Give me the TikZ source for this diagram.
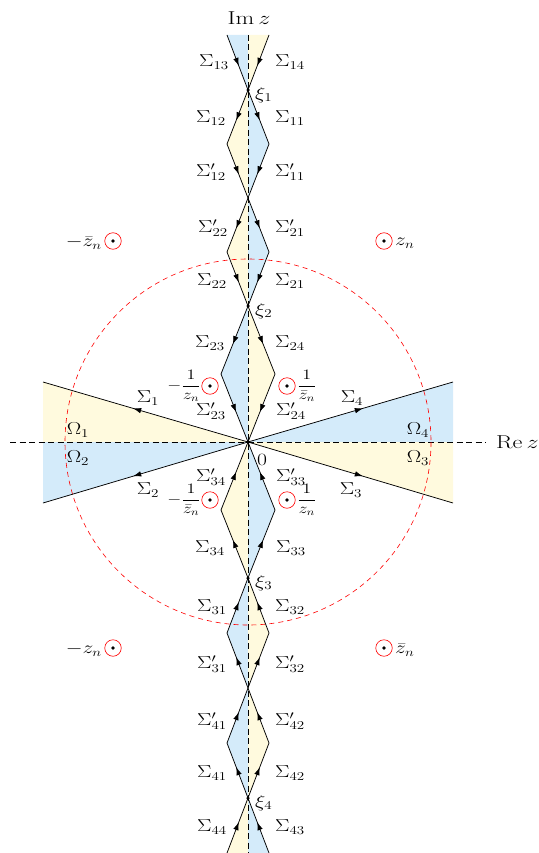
\documentclass[tikz,border=0pt]{standalone}
\usetikzlibrary{arrows.meta,decorations.markings}
\definecolor{yel}{RGB}{255,250,222}
\definecolor{blu}{RGB}{212,235,250}
\newcommand\mylb[1]{\scalebox{1.25}[1]{$#1$}}
\newcommand\myfr[1]{\scalebox{1.25}[1]{$\displaystyle #1$}}
\newcommand\myax[1]{\scalebox{1.4}[1.08]{$#1$}}
\begin{document}
\begin{tikzpicture}[x=1pt,y=-1pt,
  lbl/.style={inner sep=0pt,font=\fontsize{17.28}{20}\selectfont},
  frlbl/.style={inner sep=0pt,font=\fontsize{14.4}{17}\selectfont},
  seg/.style={line width=0.75pt,postaction={decorate},decoration={markings,
     mark=at position 0.56 with {\arrow{Latex[length=8pt,width=5.5pt]}}}},
  axis/.style={line width=0.7pt,dash pattern=on 6pt off 3.5pt},
  ptmark/.style={circle,draw=red,line width=0.6pt,minimum size=16.5pt,inner sep=0pt,
     path picture={\fill[black] (path picture bounding box.center) circle (1.9pt);}},
  sdot/.style={circle,fill=black,inner sep=0pt,minimum size=3.5pt}]
\useasboundingbox (0,0) rectangle (538,853);
% key points
\coordinate (O) at (248,442);
\coordinate (xi1) at (248,90);
\coordinate (xi2) at (248,306);
\coordinate (xi3) at (248,578);
\coordinate (xi4) at (248,798);
\coordinate (c1) at (248,198);
\coordinate (c4) at (248,688);
\coordinate (a1L) at (227,144); \coordinate (a1R) at (269,144);
\coordinate (b1L) at (227,252); \coordinate (b1R) at (269,252);
\coordinate (d2L) at (221,374); \coordinate (d2R) at (275,374);
\coordinate (d3L) at (221,510); \coordinate (d3R) at (275,510);
\coordinate (a3L) at (227,633); \coordinate (a3R) at (269,633);
\coordinate (b4L) at (227,743); \coordinate (b4R) at (269,743);
\coordinate (tL) at (227,35); \coordinate (tM) at (248,35); \coordinate (tR) at (269,35);
\coordinate (bL) at (227,853); \coordinate (bM) at (248,853); \coordinate (bR) at (269,853);
\coordinate (lU) at (43,382); \coordinate (lM) at (43,442); \coordinate (lD) at (43,503);
\coordinate (rU) at (453,382); \coordinate (rM) at (453,442); \coordinate (rD) at (453,503);
\coordinate (hL) at (10,442); \coordinate (hR) at (486,442);
% fills
\fill[blu] (tL) -- (tM) -- (xi1) -- cycle;
\fill[yel] (tM) -- (tR) -- (xi1) -- cycle;
\fill[yel] (xi1) -- (a1L) -- (c1) -- cycle;
\fill[blu] (xi1) -- (a1R) -- (c1) -- cycle;
\fill[yel] (c1) -- (b1L) -- (xi2) -- cycle;
\fill[blu] (c1) -- (b1R) -- (xi2) -- cycle;
\fill[blu] (xi2) -- (d2L) -- (O) -- cycle;
\fill[yel] (xi2) -- (d2R) -- (O) -- cycle;
\fill[yel] (O) -- (d3L) -- (xi3) -- cycle;
\fill[blu] (O) -- (d3R) -- (xi3) -- cycle;
\fill[blu] (xi3) -- (a3L) -- (c4) -- cycle;
\fill[yel] (xi3) -- (a3R) -- (c4) -- cycle;
\fill[blu] (c4) -- (b4L) -- (xi4) -- cycle;
\fill[yel] (c4) -- (b4R) -- (xi4) -- cycle;
\fill[yel] (xi4) -- (bL) -- (bM) -- cycle;
\fill[blu] (xi4) -- (bM) -- (bR) -- cycle;
\fill[yel] (O) -- (lU) -- (lM) -- cycle;
\fill[blu] (O) -- (lM) -- (lD) -- cycle;
\fill[blu] (O) -- (rU) -- (rM) -- cycle;
\fill[yel] (O) -- (rM) -- (rD) -- cycle;
% axes
\draw[axis] (hL) -- (hR);
\draw[axis] (tM) -- (bM);
% red circle
\draw[red,line width=0.6pt,dash pattern=on 5pt off 4pt] (O) circle (183);
% contours
\draw[seg] (O) -- (lU);
\draw[seg] (O) -- (lD);
\draw[seg] (O) -- (rU);
\draw[seg] (O) -- (rD);
\draw[seg] (tL) -- (xi1);
\draw[seg] (tR) -- (xi1);
\draw[seg] (xi1) -- (a1L);
\draw[seg] (xi1) -- (a1R);
\draw[seg] (a1L) -- (c1);
\draw[seg] (a1R) -- (c1);
\draw[seg] (c1) -- (b1L);
\draw[seg] (c1) -- (b1R);
\draw[seg] (b1L) -- (xi2);
\draw[seg] (b1R) -- (xi2);
\draw[seg] (xi2) -- (d2L);
\draw[seg] (xi2) -- (d2R);
\draw[seg] (d2L) -- (O);
\draw[seg] (d2R) -- (O);
\draw[seg] (d3L) -- (O);
\draw[seg] (d3R) -- (O);
\draw[seg] (xi3) -- (d3L);
\draw[seg] (xi3) -- (d3R);
\draw[seg] (a3L) -- (xi3);
\draw[seg] (a3R) -- (xi3);
\draw[seg] (c4) -- (a3L);
\draw[seg] (c4) -- (a3R);
\draw[seg] (b4L) -- (c4);
\draw[seg] (b4R) -- (c4);
\draw[seg] (xi4) -- (b4L);
\draw[seg] (xi4) -- (b4R);
\draw[seg] (bL) -- (xi4);
\draw[seg] (bR) -- (xi4);
% dots
\node[sdot] (dxi1) at (xi1) {};
\node[sdot] (dxi2) at (xi2) {};
\node[sdot] (dxi3) at (xi3) {};
\node[sdot] (dxi4) at (xi4) {};
\node[sdot] (dO) at (O) {};
% axis labels
\node[lbl] (imz) at (249,18) {\myax{\mathrm{Im}\,z}};
\node[lbl,anchor=west] (rez) at (496,442) {\myax{\mathrm{Re}\,z}};
% xi labels
\node[lbl,anchor=west] (lxi1) at (255,95) {\mylb{\xi_1}};
\node[lbl,anchor=west] (lxi2) at (255,311) {\mylb{\xi_2}};
\node[lbl,anchor=west] (lxi3) at (255,583) {\mylb{\xi_3}};
\node[lbl,anchor=west] (lxi4) at (255,803) {\mylb{\xi_4}};
\node[lbl] (l0) at (262,460) {\mylb{0}};
% Sigma labels
\node[lbl] (s13) at (214,62) {\mylb{\Sigma_{13}}};
\node[lbl] (s14) at (290,62) {\mylb{\Sigma_{14}}};
\node[lbl] (s12) at (211,118) {\mylb{\Sigma_{12}}};
\node[lbl] (s11) at (290,118) {\mylb{\Sigma_{11}}};
\node[lbl] (s12p) at (211,172) {\mylb{\Sigma'_{12}}};
\node[lbl] (s11p) at (290,172) {\mylb{\Sigma'_{11}}};
\node[lbl] (s22p) at (213,228) {\mylb{\Sigma'_{22}}};
\node[lbl] (s21p) at (290,228) {\mylb{\Sigma'_{21}}};
\node[lbl] (s22) at (212,281) {\mylb{\Sigma_{22}}};
\node[lbl] (s21) at (290,281) {\mylb{\Sigma_{21}}};
\node[lbl] (s23) at (210,343) {\mylb{\Sigma_{23}}};
\node[lbl] (s24) at (290,343) {\mylb{\Sigma_{24}}};
\node[lbl] (s23p) at (211,411) {\mylb{\Sigma'_{23}}};
\node[lbl] (s24p) at (291,411) {\mylb{\Sigma'_{24}}};
\node[lbl] (s1) at (148,398) {\mylb{\Sigma_{1}}};
\node[lbl] (s4) at (352,398) {\mylb{\Sigma_{4}}};
\node[lbl] (s2) at (148,490) {\mylb{\Sigma_{2}}};
\node[lbl] (s3) at (351,490) {\mylb{\Sigma_{3}}};
\node[lbl] (s34p) at (211,477) {\mylb{\Sigma'_{34}}};
\node[lbl] (s33p) at (291,477) {\mylb{\Sigma'_{33}}};
\node[lbl] (s34) at (210,548) {\mylb{\Sigma_{34}}};
\node[lbl] (s33) at (291,548) {\mylb{\Sigma_{33}}};
\node[lbl] (s31) at (212,607) {\mylb{\Sigma_{31}}};
\node[lbl] (s32) at (290,607) {\mylb{\Sigma_{32}}};
\node[lbl] (s31p) at (212,664) {\mylb{\Sigma'_{31}}};
\node[lbl] (s32p) at (290,664) {\mylb{\Sigma'_{32}}};
\node[lbl] (s41p) at (212,721) {\mylb{\Sigma'_{41}}};
\node[lbl] (s42p) at (290,721) {\mylb{\Sigma'_{42}}};
\node[lbl] (s41) at (212,773) {\mylb{\Sigma_{41}}};
\node[lbl] (s42) at (290,773) {\mylb{\Sigma_{42}}};
\node[lbl] (s44) at (212,827) {\mylb{\Sigma_{44}}};
\node[lbl] (s43) at (290,827) {\mylb{\Sigma_{43}}};
% Omega labels
\node[lbl] (o1) at (78,430) {\mylb{\Omega_1}};
\node[lbl] (o2) at (78,458) {\mylb{\Omega_2}};
\node[lbl] (o4) at (418,430) {\mylb{\Omega_4}};
\node[lbl] (o3) at (418,458) {\mylb{\Omega_3}};
% points
\node[ptmark] (pzn) at (384,241) {};
\node[lbl,anchor=west] (lzn) at (395,243) {\mylb{z_n}};
\node[ptmark] (pmzb) at (113,241) {};
\node[lbl,anchor=east] (lmzb) at (102,243) {\mylb{-\bar z_n}};
\node[ptmark] (pmz) at (113,648) {};
\node[lbl,anchor=east] (lmz) at (102,650) {\mylb{-z_n}};
\node[ptmark] (pzb) at (384,648) {};
\node[lbl,anchor=west] (lzb) at (395,650) {\mylb{\bar z_n}};
\node[ptmark] (pa) at (210,386) {};
\node[frlbl,anchor=east] (la) at (201,386) {\myfr{-\frac{1}{z_n}}};
\node[ptmark] (pb) at (287,386) {};
\node[frlbl,anchor=west] (lb) at (297,386) {\myfr{\frac{1}{\bar z_n}}};
\node[ptmark] (pc) at (210,500) {};
\node[frlbl,anchor=east] (lc) at (201,500) {\myfr{-\frac{1}{\bar z_n}}};
\node[ptmark] (pd) at (287,500) {};
\node[frlbl,anchor=west] (ld) at (297,500) {\myfr{\frac{1}{z_n}}};
\end{tikzpicture}
\end{document}
